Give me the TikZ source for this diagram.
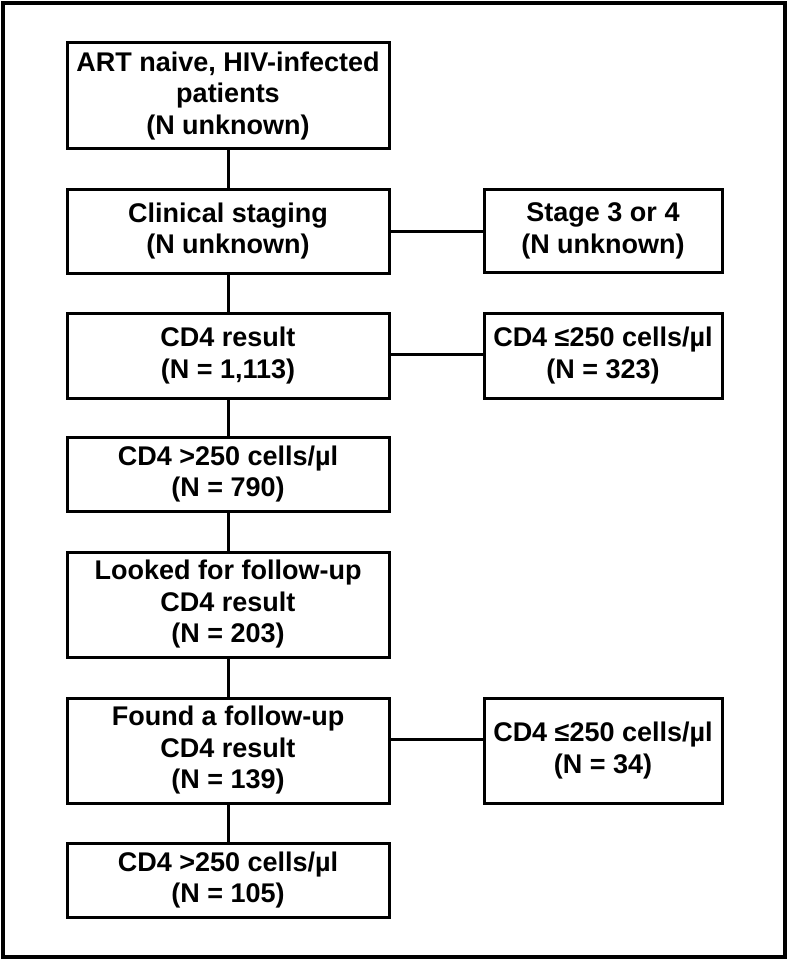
\documentclass[tikz,border=0pt]{standalone}
\usepackage{fontspec}
\setmainfont{Liberation Sans}
\begin{document}
\begin{tikzpicture}[x=1pt,y=-1pt,
  box/.style={draw, line width=3pt, minimum width=322pt, align=center, inner sep=0pt,
    font=\fontsize{27}{31.5}\selectfont\bfseries},
  rbox/.style={box, minimum width=238pt},
  link/.style={line width=3pt}]
\useasboundingbox (0,0) rectangle (788,960);
\node[draw, line width=4pt, minimum width=782pt, minimum height=954pt, inner sep=0pt] (frame) at (394,480) {};

\node[box, minimum height=106pt] (art) at (228,96) {ART naive, HIV-infected\\patients\\(N unknown)};
\node[box, minimum height=84pt] (clin) at (228,231) {Clinical staging\\(N unknown)};
\node[rbox, minimum height=83pt] (stage) at (603,231) {Stage 3 or 4\\(N unknown)};
\node[box, minimum height=85pt] (cd4) at (228,355.5) {CD4 result\\(N = 1,113)};
\node[rbox, minimum height=85pt] (low1) at (603,355.5) {CD4 ≤250 cells/µl\\(N = 323)};
\node[box, minimum height=74pt] (high1) at (228,474) {CD4 >250 cells/µl\\(N = 790)};
\node[box, minimum height=105pt] (looked) at (228,604.5) {Looked for follow-up\\CD4 result\\(N = 203)};
\node[box, minimum height=105pt] (found) at (228,750.5) {Found a follow-up\\CD4 result\\(N = 139)};
\node[rbox, minimum height=105pt] (low2) at (603,750.5) {CD4 ≤250 cells/µl\\(N = 34)};
\node[box, minimum height=74pt] (high2) at (228,880) {CD4 >250 cells/µl\\(N = 105)};

\draw[link] (art) -- (clin);
\draw[link] (clin) -- (cd4);
\draw[link] (cd4) -- (high1);
\draw[link] (high1) -- (looked);
\draw[link] (looked) -- (found);
\draw[link] (found) -- (high2);
\draw[link] (clin) -- (stage);
\draw[link] ([yshift=1.5pt]cd4.east) -- ([yshift=1.5pt]low1.west);
\draw[link] ([yshift=11.5pt]found.east) -- ([yshift=11.5pt]low2.west);
\end{tikzpicture}
\end{document}
